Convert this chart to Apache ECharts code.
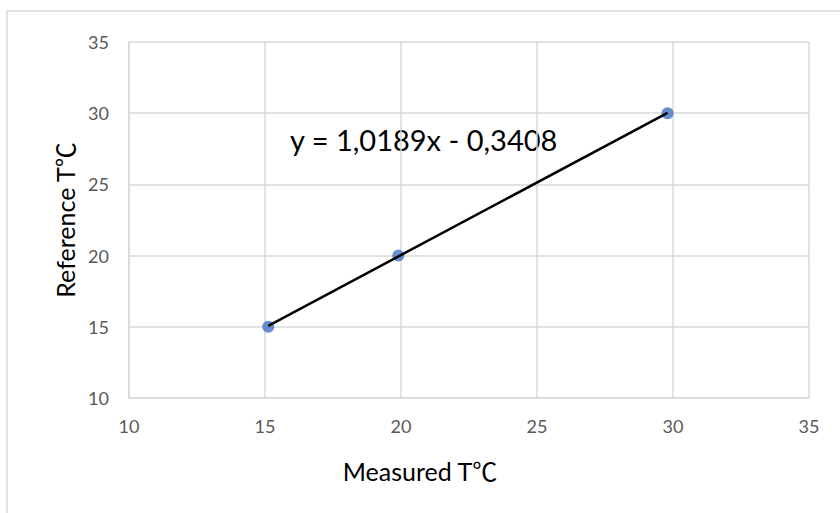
<!DOCTYPE html>
<html>
<head>
<meta charset="utf-8">
<script src="https://cdn.jsdelivr.net/npm/echarts@6/dist/echarts.min.js"></script>
<style>
  html, body { margin: 0; padding: 0; background: #fff; }
  #chart { width: 840px; height: 513px; }
</style>
</head>
<body>
<div id="chart"></div>
<script>
// measured vs reference points
var measured = [15.12, 19.9, 29.8];
var reference = [15, 20, 30];
// trend line end points (as drawn)
var trendX = [15.12, 29.8];
var trendY = [15.07, 30.02];
var equation = 'y = 1,0189x - 0,3408';

var points = measured.map(function(x, i) { return [x, reference[i]]; });
var trend = trendX.map(function(x, i) { return [x, trendY[i]]; });

var font = 'Lato, "Noto Sans CJK SC", sans-serif';
var gridColor = '#d9d9d9';
var labelColor = '#595959';

var chart = echarts.init(document.getElementById('chart'), null, { renderer: 'svg' });
chart.setOption({
  animation: false,
  backgroundColor: '#fff',
  grid: { left: 129, right: 31, top: 42, bottom: 115, containLabel: false },
  xAxis: {
    type: 'value',
    min: 10, max: 35, interval: 5,
    name: 'Measured T℃',
    nameLocation: 'middle',
    nameGap: 60,
    // title sits left of the axis centre in the original
    nameTextStyle: { color: '#000', fontSize: 25, fontFamily: font, padding: [0, 98, 0, 0] },
    axisLabel: { color: labelColor, fontSize: 18, fontFamily: font, margin: 19 },
    axisLine: { lineStyle: { color: gridColor, width: 1.5 } },
    axisTick: { show: false },
    splitLine: { lineStyle: { color: gridColor, width: 1.5 } }
  },
  yAxis: {
    type: 'value',
    min: 10, max: 35, interval: 5,
    name: 'Reference T℃',
    nameLocation: 'middle',
    nameGap: 52,
    nameTextStyle: { color: '#000', fontSize: 25, fontFamily: font },
    axisLabel: { color: labelColor, fontSize: 18, fontFamily: font, margin: 20 },
    axisLine: { show: true, lineStyle: { color: gridColor, width: 1.5 } },
    axisTick: { show: false },
    splitLine: { lineStyle: { color: gridColor, width: 1.5 } }
  },
  graphic: [
    {
      type: 'rect',
      shape: { x: 7, y: 11, width: 845, height: 520 },
      style: { fill: 'none', stroke: '#d9d9d9', lineWidth: 1.5 },
      silent: true
    },
    {
      type: 'text',
      left: 290, top: 125,
      style: { text: equation, fill: '#000', fontSize: 29, fontFamily: font }
    }
  ],
  series: [
    {
      type: 'line',
      data: trend,
      showSymbol: false,
      lineStyle: { color: '#000', width: 2.5 },
      z: 3
    },
    {
      type: 'scatter',
      data: points,
      symbolSize: 12,
      itemStyle: { color: '#4472C4' },
      z: 2
    }
  ]
});
</script>
</body>
</html>
